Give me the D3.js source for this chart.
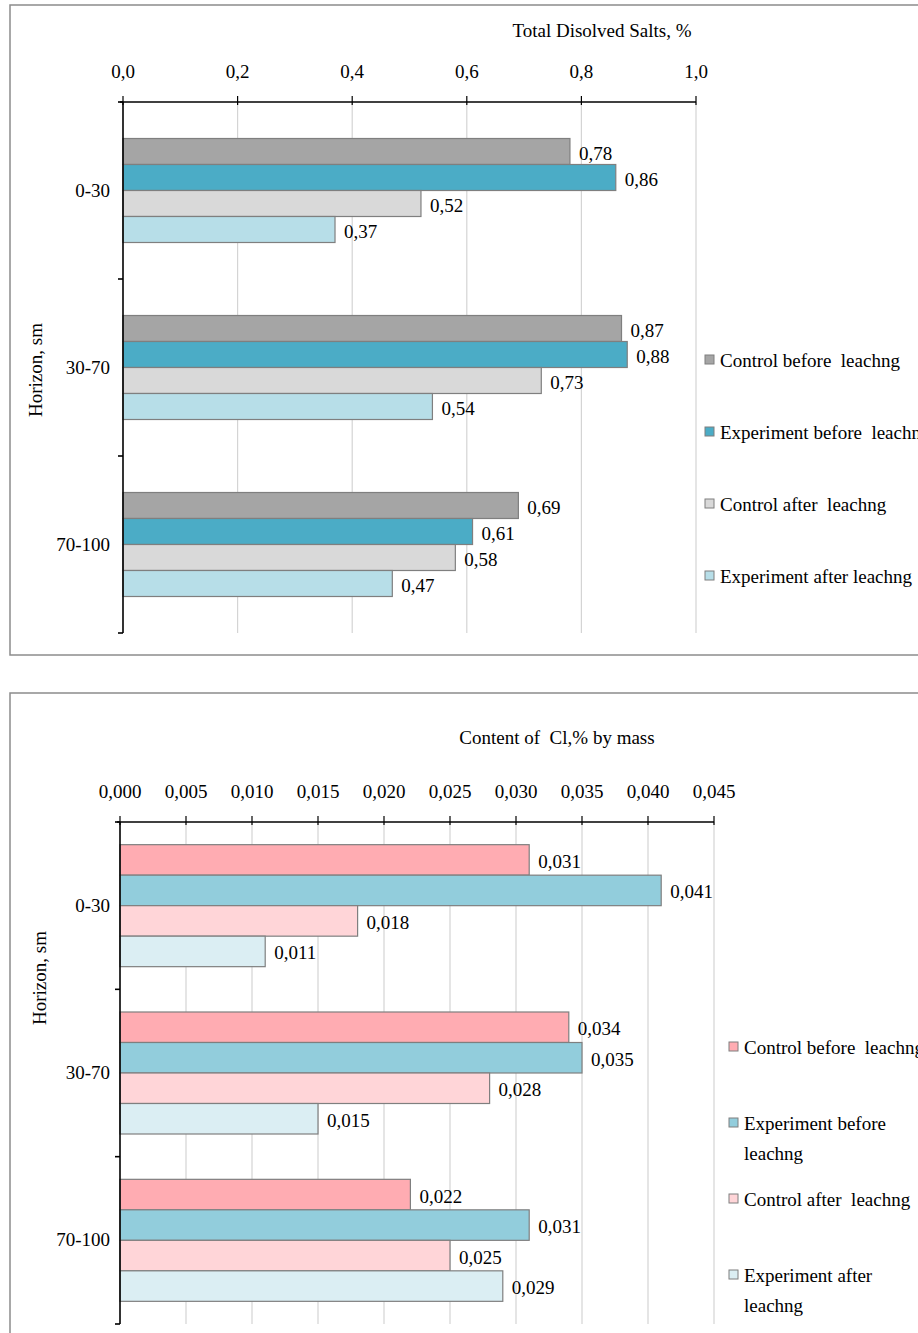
<!DOCTYPE html>
<html>
<head>
<meta charset='utf-8'>
<script src="https://d3js.org/d3.v7.min.js"></script>
<style>
  body { margin: 0; background: #fff; }
</style>
</head>
<body>
<div id="chart-container"></div>
<script>
// ---- data ----
const horizons = ['0-30', '30-70', '70-100'];

const seriesNames = ['Control before  leachng', 'Experiment before  leachng',
                     'Control after  leachng', 'Experiment after leachng'];

// Total dissolved salts, % (one array per series, one value per horizon)
const tdsControlBefore = [0.78, 0.87, 0.69];
const tdsExperimentBefore = [0.86, 0.88, 0.61];
const tdsControlAfter = [0.52, 0.73, 0.58];
const tdsExperimentAfter = [0.37, 0.54, 0.47];
const tdsTicks = [0, 0.2, 0.4, 0.6, 0.8, 1.0];

// Cl content, % by mass
const clControlBefore = [0.031, 0.034, 0.022];
const clExperimentBefore = [0.041, 0.035, 0.031];
const clControlAfter = [0.018, 0.028, 0.025];
const clExperimentAfter = [0.011, 0.015, 0.029];
const clTicks = [0, 0.005, 0.010, 0.015, 0.020, 0.025, 0.030, 0.035, 0.040, 0.045];

const clLegendLines = [['Control before  leachng'], ['Experiment before', 'leachng'],
                       ['Control after  leachng'], ['Experiment after', 'leachng']];

const svg = d3.select('#chart-container').append('svg')
  .attr('width', 918).attr('height', 1333);

const FONT = 'Liberation Serif';
const FS = 19;

function txt(g, x, y, s, anchor) {
  return g.append('text')
    .attr('x', x).attr('y', y)
    .attr('font-family', FONT)
    .attr('font-size', FS)
    .attr('fill', '#000')
    .style('white-space', 'pre')
    .attr('text-anchor', anchor || 'start')
    .text(s);
}

function drawChart(cfg) {
  const g = svg.append('g');

  // outer frame
  g.append('rect')
    .attr('x', cfg.frame[0]).attr('y', cfg.frame[1])
    .attr('width', cfg.frame[2]).attr('height', cfg.frame[3])
    .attr('fill', 'none').attr('stroke', '#8c8c8c').attr('stroke-width', 1.5);

  const x = d3.scaleLinear().domain(cfg.domain).range([cfg.left, cfg.right]);
  const y = d3.scaleBand().domain(horizons).range([cfg.top, cfg.bottom]);
  const inner = d3.scaleBand().domain(d3.range(4))
    .range([0, cfg.barH * 4]);

  // grid lines
  g.selectAll('.grid').data(cfg.ticks.slice(1)).enter().append('line')
    .attr('x1', d => x(d)).attr('x2', d => x(d))
    .attr('y1', cfg.top).attr('y2', cfg.bottom)
    .attr('stroke', '#d4d4d4').attr('stroke-width', 1.2);

  // bars
  const rows = horizons.map((h, i) => cfg.series.map((s, j) => ({h: h, j: j, v: s[i]}))).flat();
  const off = (y.bandwidth() - cfg.barH * 4) / 2;
  g.selectAll('.bar').data(rows).enter().append('rect')
    .attr('x', x(0))
    .attr('y', d => y(d.h) + off + inner(d.j))
    .attr('width', d => x(d.v) - x(0))
    .attr('height', inner.bandwidth())
    .attr('fill', d => cfg.colors[d.j])
    .attr('stroke', '#7f7f7f').attr('stroke-width', 1.2);

  // value labels
  rows.forEach(d => {
    txt(g, x(d.v) + 9, y(d.h) + off + inner(d.j) + inner.bandwidth() / 2 + 8,
        d3.format(cfg.fmt)(d.v).replace('.', ','));
  });

  // top axis
  g.append('line').attr('x1', x(0) - 3).attr('x2', cfg.right)
    .attr('y1', cfg.top).attr('y2', cfg.top)
    .attr('stroke', '#000').attr('stroke-width', 1.6);
  g.selectAll('.xt').data(cfg.ticks).enter().append('line')
    .attr('x1', d => x(d)).attr('x2', d => x(d))
    .attr('y1', cfg.top - 6).attr('y2', cfg.top + 3)
    .attr('stroke', '#000').attr('stroke-width', 1.2);
  cfg.ticks.forEach(t => {
    txt(g, x(t), cfg.top - 24, d3.format(cfg.tickFmt)(t).replace('.', ','), 'middle');
  });
  txt(g, cfg.titleX, cfg.titleY, cfg.title, 'middle');

  // left axis
  g.append('line').attr('x1', x(0)).attr('x2', x(0))
    .attr('y1', cfg.top).attr('y2', cfg.bottom)
    .attr('stroke', '#000').attr('stroke-width', 1.6);
  const bounds = horizons.map(h => y(h)).concat([cfg.bottom]);
  g.selectAll('.yt').data(bounds).enter().append('line')
    .attr('x1', x(0) - 5).attr('x2', x(0))
    .attr('y1', d => d).attr('y2', d => d)
    .attr('stroke', '#000').attr('stroke-width', 1.6);
  horizons.forEach(h => {
    txt(g, 110, y(h) + y.bandwidth() / 2 + 6, h, 'end');
  });
  g.append('text')
    .attr('transform', 'translate(' + cfg.yTitleX + ',' + cfg.yTitleY + ') rotate(-90)')
    .attr('font-family', FONT)
    .attr('font-size', FS).attr('text-anchor', 'middle')
    .text('Horizon, sm');

  // legend
  cfg.legend.forEach((lines, i) => {
    const ly = cfg.legendY[i];
    g.append('rect')
      .attr('x', cfg.legendX).attr('y', ly - 5).attr('width', 9).attr('height', 9)
      .attr('fill', cfg.colors[i]).attr('stroke', '#7f7f7f').attr('stroke-width', 1);
    lines.forEach((l, k) => {
      txt(g, cfg.legendX + 15, ly + 7 + k * 30, l);
    });
  });
}

drawChart({
  frame: [10, 5, 920, 650],
  domain: [0, 1], left: 123, right: 696, top: 102, bottom: 633,
  barH: 26, ticks: tdsTicks, tickFmt: '.1f', fmt: '.2f',
  series: [tdsControlBefore, tdsExperimentBefore, tdsControlAfter, tdsExperimentAfter],
  colors: ['#a5a5a5', '#4bacc6', '#d9d9d9', '#b7dee8'],
  title: 'Total Disolved Salts, %', titleX: 602, titleY: 37,
  yTitleX: 42, yTitleY: 370,
  legend: seriesNames.map(s => [s]), legendX: 705, legendY: [360, 432, 504, 576]
});

drawChart({
  frame: [10, 693, 920, 660],
  domain: [0, 0.045], left: 120, right: 714, top: 822, bottom: 1324,
  barH: 30.5, ticks: clTicks, tickFmt: '.3f', fmt: '.3f',
  series: [clControlBefore, clExperimentBefore, clControlAfter, clExperimentAfter],
  colors: ['#ffacb2', '#92cddc', '#ffd5d8', '#dbeef3'],
  title: 'Content of  Cl,% by mass', titleX: 557, titleY: 744,
  yTitleX: 46, yTitleY: 978,
  legend: clLegendLines, legendX: 729, legendY: [1047, 1123, 1199, 1275]
});
</script>
</body>
</html>
